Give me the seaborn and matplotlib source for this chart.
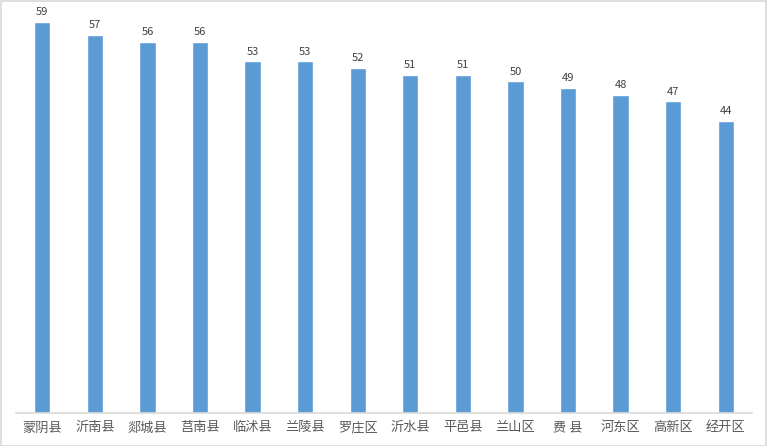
import matplotlib
matplotlib.use('Agg')
import matplotlib.pyplot as plt
import seaborn as sns
import pandas as pd

regions = ['蒙阴县', '沂南县', '郯城县', '莒南县', '临沭县', '兰陵县', '罗庄区',
           '沂水县', '平邑县', '兰山区', '费 县', '河东区', '高新区', '经开区']
scores = [59, 57, 56, 56, 53, 53, 52, 51, 51, 50, 49, 48, 47, 44]

df = pd.DataFrame({'region': regions, 'score': scores})

sns.set_style('white')
plt.rcParams['font.family'] = ['Noto Sans CJK SC', 'DejaVu Sans']

fig = plt.figure(figsize=(7.67, 4.46), dpi=100)
ax = fig.add_axes([16 / 767, 33 / 446, 736 / 767, 398 / 446])

sns.barplot(data=df, x='region', y='score', color='#5b9bd5', width=0.31,
            saturation=1, ax=ax)

for i, v in enumerate(scores):
    ax.text(i, v + 0.7, str(v), ha='center', va='bottom', fontsize=8, color='#404040')

ax.set_ylim(0, 60)
ax.set_xlim(-0.5, len(regions) - 0.5)
ax.set_xlabel('')
ax.set_ylabel('')
ax.set_yticks([])
ax.tick_params(axis='x', length=0, labelsize=9.5, labelcolor='#595959', pad=6)
for s in ['top', 'left', 'right']:
    ax.spines[s].set_visible(False)
ax.spines['bottom'].set_color('#d9d9d9')
ax.spines['bottom'].set_linewidth(1.2)

border = plt.Rectangle((0.5 / 767, 0.5 / 446), 1 - 1.5 / 767, 1 - 1.5 / 446,
                       transform=fig.transFigure, fill=False, edgecolor='#d9d9d9', linewidth=1.2)
fig.patches.append(border)

fig.savefig('out.png', dpi=100)
